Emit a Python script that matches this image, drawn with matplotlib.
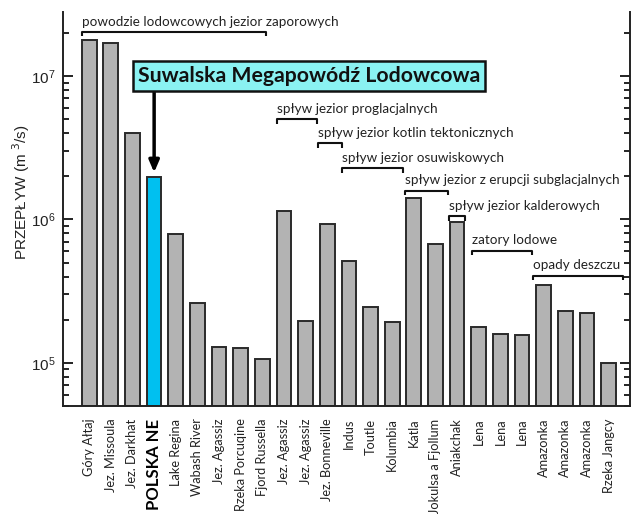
import math
import matplotlib
matplotlib.use("Agg")
import matplotlib.pyplot as plt
from matplotlib.ticker import LogLocator, NullFormatter, FuncFormatter

categories = ["Góry Ałtaj", "Jez. Missoula", "Jez. Darkhat", "POLSKA NE", "Lake Regina",
              "Wabash River", "Jez. Agassiz", "Rzeka Porcuqine", "Fjord Russella",
              "Jez. Agassiz", "Jez. Agassiz", "Jez. Bonneville", "Indus", "Toutle",
              "Kolumbia", "Katla", "Jokulsa a Fjollum", "Aniakchak", "Lena", "Lena",
              "Lena", "Amazonka", "Amazonka", "Amazonka", "Rzeka Jangcy"]
flow = [1.79e7, 1.71e7, 4.0e6, 1.97e6, 7.95e5,
        2.63e5, 1.28e5, 1.27e5, 1.07e5,
        1.15e6, 1.95e5, 9.3e5, 5.17e5, 2.46e5,
        1.92e5, 1.42e6, 6.7e5, 9.6e5, 1.78e5, 1.59e5,
        1.57e5, 3.48e5, 2.30e5, 2.21e5, 1.0e5]
highlight = 3

group_labels = ["powodzie lodowcowych jezior zaporowych", "spływ jezior proglacjalnych",
                "spływ jezior kotlin tektonicznych", "spływ jezior osuwiskowych",
                "spływ jezior z erupcji subglacjalnych", "spływ jezior kalderowych",
                "zatory lodowe", "opady deszczu"]
group_start = [-0.33, 8.68, 10.57, 11.68, 14.59, 16.62, 17.69, 20.51]
group_end = [8.17, 10.52, 11.68, 14.50, 16.58, 17.36, 20.46, 24.67]
group_level = [2.04e7, 5.0e6, 3.4e6, 2.27e6, 1.59e6, 1.05e6, 6.07e5, 4.06e5]

title_text = "Suwalska Megapowódź Lodowcowa"
ylabel = "PRZEPŁYW (m $^3$/s)"

label_font = ["Lato", "DejaVu Sans"]
tick_font = ["Liberation Sans", "DejaVu Sans"]

fig = plt.figure(figsize=(6.34, 5.14), dpi=100)
ax = fig.add_axes([0.0989, 0.2101, 0.8948, 0.7666])
ax.set_yscale("log")
ylo, yhi = 5.0e4, 2.8e7
ax.set_ylim(ylo, yhi)
ax.set_xlim(-1.225, 24.99)

x = list(range(len(categories)))
colors = ["#00C0F0" if i == highlight else "#B3B3B3" for i in x]
heights = [v - ylo for v in flow]
ax.bar(x, heights, bottom=ylo, width=0.68, color=colors, edgecolor="#2a2a2a", linewidth=1.4, zorder=2)

ax.spines["top"].set_visible(False)
for s in ["left", "right", "bottom"]:
    ax.spines[s].set_linewidth(1.4)
    ax.spines[s].set_color("#222222")

ax.yaxis.set_major_locator(LogLocator(base=10, numticks=10))
ax.yaxis.set_minor_locator(LogLocator(base=10, subs=[2, 3, 4, 5, 6, 7, 8, 9], numticks=20))
ax.yaxis.set_minor_formatter(NullFormatter())
ax.yaxis.set_major_formatter(FuncFormatter(
    lambda v, p: r"$\mathregular{10^{%d}}$" % round(math.log10(v))))
ax.tick_params(axis="y", which="major", direction="in", length=7, width=1.4, left=True, right=True, pad=5,
               labelsize=11, colors="#222222")
ax.tick_params(axis="y", which="minor", direction="in", length=4.5, width=1.2, left=True, right=True)
for lbl in ax.get_yticklabels():
    lbl.set_family(tick_font)

ax.set_xticks(x)
ax.set_xticklabels(categories, rotation=90, family=label_font, fontsize=9.2, color="#222222")
ax.tick_params(axis="x", length=0, pad=9)
for i, lbl in enumerate(ax.get_xticklabels()):
    if i == highlight:
        lbl.set_fontweight("bold")
        lbl.set_fontsize(12)
        lbl.set_color("black")

fig.text(21 / 634, 1 - 192 / 514, ylabel, rotation=90, ha="center", va="center",
         family=tick_font, fontsize=11, color="#222222")

# group brackets
for lab, xs, xe, yl in zip(group_labels, group_start, group_end, group_level):
    tick_f = 10 ** (-0.03)
    ax.plot([xs, xs, xe, xe], [yl * tick_f, yl, yl, yl * tick_f], color="#111111", lw=1.5,
            solid_capstyle="butt", zorder=3, clip_on=False)
    ax.annotate(lab, xy=(xs, yl), xytext=(0, 3), textcoords="offset points", ha="left", va="bottom",
                family=label_font, fontsize=9.75, color="#222222")

# title box with arrow
ax.annotate("", xy=(highlight, flow[highlight] * 1.08), xytext=(highlight, 8.1e6),
            arrowprops=dict(arrowstyle="-|>,head_length=0.7,head_width=0.3", color="black", lw=2.5,
                            shrinkA=0, shrinkB=0),
            zorder=4)
ax.text(2.25, 1.0e7, title_text, ha="left", va="center", family=label_font, fontsize=15.3,
        fontweight="bold", color="#111111", zorder=5,
        bbox=dict(boxstyle="square,pad=0.22", facecolor="#8AF2F2", edgecolor="#111111", linewidth=1.8))

fig.savefig("out.png", dpi=100)
